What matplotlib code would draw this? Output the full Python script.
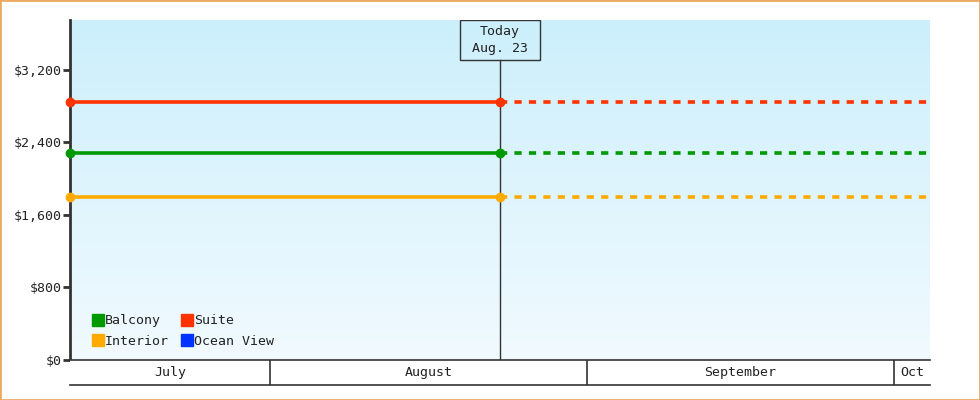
import datetime as dt
import numpy as np
import matplotlib
matplotlib.use("Agg")
import matplotlib.pyplot as plt
import matplotlib.dates as mdates
from matplotlib.lines import Line2D
from matplotlib.patches import Rectangle
from matplotlib.ticker import FuncFormatter

# data
categories = ["Balcony", "Suite", "Interior", "Ocean View"]
colors = ["#009900", "#ff3300", "#ffaa00", "#0033ff"]
prices = [2280, 2850, 1800, None]      # Ocean View has no price
start = dt.datetime(2024, 7, 12, 12)
today = dt.datetime(2024, 8, 23, 12)
end = dt.datetime(2024, 10, 4, 12)
month_starts = [dt.datetime(2024, 7, 1), dt.datetime(2024, 8, 1),
                dt.datetime(2024, 9, 1), dt.datetime(2024, 10, 1)]
month_names = ["July", "August", "September", "Oct"]
yticks = [0, 800, 1600, 2400, 3200]
ymax = 3750

plt.rcParams["font.family"] = ["DejaVu Sans Mono"]
FS = 9.5
DARK = "#333333"

fig = plt.figure(figsize=(9.8, 4), dpi=100)
W, H = 980, 400
ax = fig.add_axes([70 / W, 40 / H, 860 / W, 340 / H])

# gradient background
grad = np.linspace(0, 1, 256).reshape(-1, 1)
top = np.array([204, 239, 252]) / 255
bot = np.array([241, 250, 255]) / 255
img = top + (bot - top) * grad[:, :, None]
ax.imshow(img, extent=[0, 1, 0, 1], transform=ax.transAxes, aspect="auto", zorder=0)

x0, x1, xt = mdates.date2num(start), mdates.date2num(end), mdates.date2num(today)
for name, col, p in zip(categories, colors, prices):
    if p is None:
        continue
    ax.plot([x0, xt], [p, p], color=col, lw=2.6, zorder=3, solid_capstyle="butt")
    ax.plot([xt, x1], [p, p], color=col, lw=2.6, ls=(0, (2, 2)), zorder=3)
    ax.plot([x0, xt], [p, p], "o", color=col, ms=6, zorder=4, clip_on=False)

ax.set_xlim(x0, x1)
ax.set_ylim(0, ymax)
ax.set_yticks(yticks)
ax.yaxis.set_major_formatter(FuncFormatter(lambda v, _: "${:,.0f}".format(v)))
ax.set_xticks([])
for s in ["top", "right", "bottom"]:
    ax.spines[s].set_visible(False)
ax.spines["left"].set_color(DARK)
ax.spines["left"].set_linewidth(2)
ax.tick_params(axis="y", direction="out", length=5, width=2, color=DARK,
               labelsize=FS, labelcolor="#222222", pad=1)

# today marker
box_h = 40 / 340
ax.axvline(xt, ymin=0, ymax=1 - box_h, color=DARK, lw=1, zorder=2)
fx = (xt - x0) / (x1 - x0)
bw = 80 / 860
ax.add_patch(Rectangle((fx - bw / 2, 1 - box_h), bw, box_h, transform=ax.transAxes,
                       fill=False, edgecolor=DARK, lw=1, zorder=5))
ax.text(fx, 1 - box_h / 2, "Today\nAug. 23", transform=ax.transAxes, ha="center",
        va="center", fontsize=FS, color="#222222", linespacing=1.35, zorder=6)

# legend
handles = [Line2D([], [], marker="s", ls="none", color=c, markersize=8.0) for c in colors]
order = [0, 2, 1, 3]
leg = ax.legend([handles[i] for i in order], [categories[i] for i in order], ncol=2,
                loc="lower left", bbox_to_anchor=(0.027, 0.035), frameon=False,
                fontsize=FS, handlelength=0.75, handletextpad=0.15, columnspacing=1.0,
                labelspacing=0.6, borderpad=0, borderaxespad=0)
for t in leg.get_texts():
    t.set_color("#222222")

# month band
axm = fig.add_axes([70 / W, 15 / H, 860 / W, 25 / H])
axm.set_xlim(x0, x1)
axm.set_ylim(0, 1)
axm.set_xticks([])
axm.set_yticks([])
for s in ["left", "right"]:
    axm.spines[s].set_visible(False)
for s in ["top", "bottom"]:
    axm.spines[s].set_color(DARK)
    axm.spines[s].set_linewidth(1.2)
bounds = [mdates.date2num(m) for m in month_starts] + [mdates.date2num(dt.datetime(2024, 11, 1))]
for i, name in enumerate(month_names):
    a, b = max(bounds[i], x0), min(bounds[i + 1], x1)
    if a > x0:
        axm.axvline(a, color=DARK, lw=1.2)
    axm.text((a + b) / 2, 0.5, name, ha="center", va="center", fontsize=FS, color="#222222")

fig.patches.append(Rectangle((0, 0), 1, 1, transform=fig.transFigure, fill=False,
                             edgecolor="#ecaa64", lw=2))

fig.savefig("out.png", dpi=100)
